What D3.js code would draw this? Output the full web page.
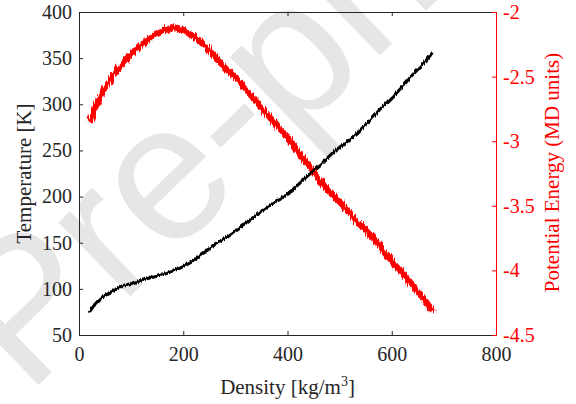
<!DOCTYPE html>
<html><head><meta charset="utf-8">
<script src="https://cdn.jsdelivr.net/npm/d3@7"></script>
<style>html,body{margin:0;padding:0;background:#fff;}svg{display:block;}</style>
</head><body>
<script>
// Temperature vs density (black, left axis)
const tempDensity = [19, 30, 40, 60, 80, 100, 130, 160, 190, 220, 250, 280, 310, 340, 370, 400, 430, 460, 490, 520, 550, 580, 610, 640, 660, 678];
const temperature = [75, 84, 90, 97, 103, 106, 112, 116.5, 123, 132, 144.5, 156, 168, 181, 193, 204, 219, 234, 250, 263, 279, 297, 314, 333, 345, 357];
// Potential energy vs density (red, right axis)
const peDensity = [20, 30, 40, 55, 70, 85, 100, 120, 140, 160, 175, 190, 210, 230, 250, 270, 290, 310, 330, 350, 375, 400, 425, 450, 475, 500, 525, 550, 575, 600, 625, 650, 678];
const potentialEnergy = [-2.84, -2.72, -2.63, -2.53, -2.44, -2.37, -2.31, -2.23, -2.17, -2.13, -2.11, -2.12, -2.16, -2.22, -2.29, -2.39, -2.47, -2.55, -2.65, -2.74, -2.86, -2.97, -3.11, -3.24, -3.37, -3.47, -3.59, -3.69, -3.80, -3.93, -4.05, -4.17, -4.31];
const xTicks = [0, 200, 400, 600, 800];
const yLeftTicks = [50, 100, 150, 200, 250, 300, 350, 400];
const yRightTicks = [-4.5, -4, -3.5, -3, -2.5, -2];
const watermarkText = "Pre-print";

const W = 576, H = 404;
const L = 79, R = 496, T = 12, B = 335;
const axisCol = "#262626";
const serif = "'Liberation Serif','Times New Roman',Times,serif";

const svg = d3.select("body").append("svg").attr("width", W).attr("height", H)
  .style("background", "#fff");

// jagged look of the noisy simulation traces
const defs = svg.append("defs");
const f = defs.append("filter").attr("id", "rough").attr("x", "-5%").attr("y", "-5%").attr("width", "110%").attr("height", "110%");
f.append("feTurbulence").attr("type", "turbulence").attr("baseFrequency", "0.9 0.03").attr("numOctaves", 2).attr("seed", 3).attr("result", "n");
f.append("feDisplacementMap").attr("in", "SourceGraphic").attr("in2", "n").attr("scale", 6).attr("xChannelSelector", "G").attr("yChannelSelector", "R");
const f2 = defs.append("filter").attr("id", "rough2").attr("x", "-5%").attr("y", "-5%").attr("width", "110%").attr("height", "110%");
f2.append("feTurbulence").attr("type", "turbulence").attr("baseFrequency", "0.9 0.03").attr("numOctaves", 2).attr("seed", 5).attr("result", "n");
f2.append("feDisplacementMap").attr("in", "SourceGraphic").attr("in2", "n").attr("scale", 2).attr("xChannelSelector", "G").attr("yChannelSelector", "R");

// watermark
svg.append("text").text(watermarkText)
  .attr("transform", "translate(27,396) rotate(-44)")
  .attr("font-family", "'Liberation Sans',Arial,sans-serif")
  .attr("font-size", 195).attr("fill", "#e6e6e6");

const x = d3.scaleLinear().domain([0, 800]).range([L, R]);
const yL = d3.scaleLinear().domain([50, 400]).range([B, T]);
const yR = d3.scaleLinear().domain([-4.5, -2]).range([B, T]);
const fmt = d => String(d);

function style(g, col) {
  g.select(".domain").attr("stroke", col).attr("stroke-width", 1);
  g.selectAll(".tick line").attr("stroke", col).attr("stroke-width", 1);
  g.selectAll(".tick text").attr("fill", col).attr("font-family", serif).attr("font-size", 20);
  g.attr("font-family", null).attr("font-size", null);
}

// top border with ticks
svg.append("g").attr("transform", `translate(0,${T})`)
  .call(d3.axisTop(x).tickValues(xTicks).tickSizeInner(-4).tickSizeOuter(0).tickFormat(""))
  .call(g => style(g, axisCol));
// bottom axis
svg.append("g").attr("transform", `translate(0,${B})`)
  .call(d3.axisBottom(x).tickValues(xTicks).tickSizeInner(-4).tickSizeOuter(0).tickPadding(12).tickFormat(fmt))
  .call(g => style(g, axisCol));
// left axis
svg.append("g").attr("transform", `translate(${L},0)`)
  .call(d3.axisLeft(yL).tickValues(yLeftTicks).tickSizeInner(-4).tickSizeOuter(0).tickPadding(7).tickFormat(fmt))
  .call(g => style(g, axisCol));

// lines
const lineT = d3.line().curve(d3.curveMonotoneX).x((d, i) => x(tempDensity[i])).y(d => yL(d));
const lineE = d3.line().curve(d3.curveMonotoneX).x((d, i) => x(peDensity[i])).y(d => yR(d));

svg.append("path").datum(potentialEnergy).attr("d", lineE).attr("filter", "url(#rough)")
  .attr("fill", "none").attr("stroke", "#ff0000").attr("stroke-width", 6).attr("stroke-linejoin", "round");
svg.append("path").datum(temperature).attr("d", lineT).attr("filter", "url(#rough2)")
  .attr("fill", "none").attr("stroke", "#000").attr("stroke-width", 3).attr("stroke-linejoin", "round");

// right axis
svg.append("g").attr("transform", `translate(${R},0)`)
  .call(d3.axisRight(yR).tickValues(yRightTicks).tickSizeInner(-4).tickSizeOuter(0).tickPadding(7).tickFormat(fmt))
  .call(g => style(g, "#ff0000"));

// axis labels
const xl = svg.append("text").attr("x", (L + R) / 2).attr("y", 394).attr("text-anchor", "middle")
  .attr("font-family", serif).attr("font-size", 21).attr("fill", axisCol);
xl.append("tspan").text("Density [kg/m");
xl.append("tspan").text("3").attr("font-size", 14).attr("dy", -8);
xl.append("tspan").text("]").attr("dy", 8);

svg.append("text").attr("transform", `translate(31,${(T + B) / 2}) rotate(-90)`).attr("text-anchor", "middle")
  .attr("font-family", serif).attr("font-size", 21).attr("fill", axisCol).text("Temperature [K]");
svg.append("text").attr("transform", `translate(559,${(T + B) / 2 - 1}) rotate(-90)`).attr("text-anchor", "middle")
  .attr("font-family", serif).attr("font-size", 21).attr("fill", "#ff0000").text("Potential Energy (MD units)");
</script>
</body></html>
